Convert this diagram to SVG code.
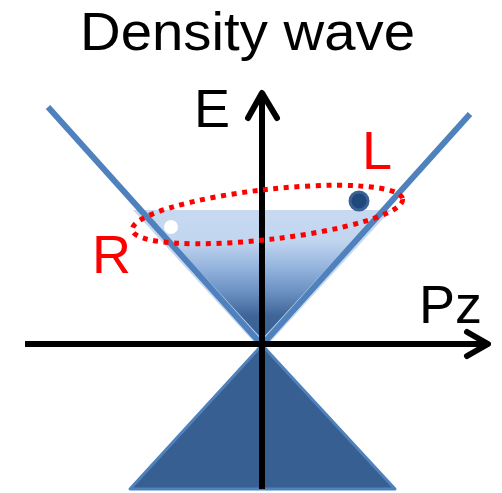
<svg xmlns="http://www.w3.org/2000/svg" width="502" height="493" viewBox="0 0 502 493">
<style>
.lbl{font-family:"Liberation Sans",Arial,sans-serif;font-size:54px}
.red{fill:#ff0000}
.axis{stroke:#000;stroke-width:6;fill:none}
.cone{stroke:#4f81bd;stroke-width:6;stroke-linecap:butt}
</style>
<defs>
<linearGradient id="g" gradientUnits="userSpaceOnUse" x1="0" y1="214" x2="0" y2="345">
<stop offset="0" stop-color="#c6d9f1"/>
<stop offset="0.2" stop-color="#c3d6f0"/>
<stop offset="0.42" stop-color="#92b2dd"/>
<stop offset="0.6" stop-color="#6a8fc1"/>
<stop offset="0.78" stop-color="#3f6598"/>
<stop offset="1" stop-color="#365f91"/>
</linearGradient>
</defs>
<rect width="502" height="493" fill="#fff"/>
<g id="title"><text x="80" y="50" font-family="Liberation Sans, Arial, sans-serif" font-size="53" textLength="335" lengthAdjust="spacingAndGlyphs">Density wave</text></g>
<g id="upper-cone-fill"><polygon points="142,214 382,214 262,345" fill="url(#g)" stroke="#c6d9f1" stroke-width="8" stroke-linejoin="miter"/></g>
<g id="lower-cone"><polygon points="262,345 130,489 395,489" fill="#375f92" stroke="#4f81bd" stroke-width="3" stroke-linejoin="round"/></g>
<g id="cone-lines">
<line class="cone" x1="48" y1="107" x2="262" y2="345"/>
<line class="cone" x1="470" y1="114" x2="262" y2="345"/>
</g>
<g id="connectors">
<line class="axis" x1="262" y1="489" x2="262" y2="96"/>
<polyline class="axis" points="248,118 262,93 277,118" stroke-linejoin="round" stroke-linecap="round"/>
<line class="axis" x1="25" y1="344" x2="487" y2="344"/>
<polyline class="axis" points="467,332 488,344 467,356" stroke-linejoin="round" stroke-linecap="round"/>
</g>
<g id="ellipse"><ellipse cx="267.5" cy="214.5" rx="136" ry="25" transform="rotate(-6.5 267.5 214.5)" fill="none" stroke="#ff0000" stroke-width="5" stroke-dasharray="5 5.6"/></g>
<g id="hole"><circle cx="171" cy="227" r="7" fill="#fff"/></g>
<g id="electron"><circle cx="359" cy="201" r="9" fill="#1f487c" stroke="#3b6195" stroke-width="3"/></g>
<g id="label-E"><text class="lbl" x="194" y="127">E</text></g>
<g id="label-L"><text class="lbl red" x="362" y="169">L</text></g>
<g id="label-R"><text class="lbl red" x="92" y="273">R</text></g>
<g id="label-Pz"><text class="lbl" x="419" y="323">Pz</text></g>
</svg>
